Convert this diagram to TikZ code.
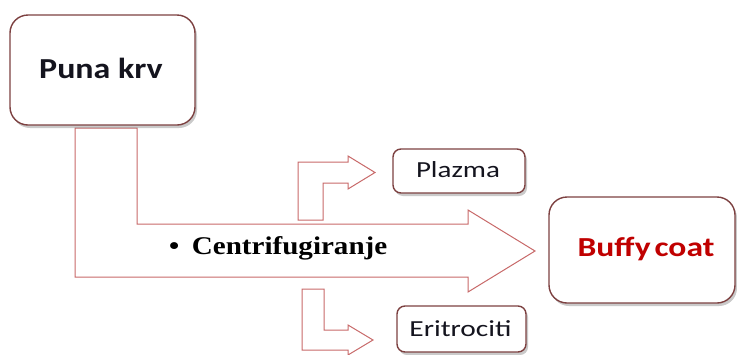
\documentclass[tikz,border=0pt]{standalone}
\usepackage{fontspec}
\setmainfont{Carlito}
\newfontfamily\tnr{Liberation Serif}
\usetikzlibrary{shadows}
\definecolor{boxline}{RGB}{125,65,65}
\definecolor{arrline}{RGB}{200,105,105}
\definecolor{buffyred}{RGB}{192,0,0}
\definecolor{txtdark}{RGB}{20,20,30}
\newcommand{\hsx}[2]{\scalebox{#1}[1]{#2}}
\tikzset{
  rbox/.style={draw=boxline, line width=1.4pt, fill=white, rounded corners=#1, inner sep=0pt,
    drop shadow={shadow xshift=2pt, shadow yshift=-3pt, opacity=0.35, fill=black!60}},
  barrow/.style={draw=arrline, line width=1pt, fill=white, line join=miter}
}
\begin{document}
\begin{tikzpicture}[x=1pt,y=-1pt]
\useasboundingbox (0,0) rectangle (737,354);
% big bent arrow
\draw[barrow] (75,128) -- (137,128) -- (137,224) -- (468,224) -- (468,210) -- (535,251)
  -- (468,292) -- (468,277) -- (75,277) -- cycle;
% plazma arrow
\draw[barrow] (298,220) -- (298,162) -- (348,162) -- (348,156) -- (375,172.5) -- (348,189)
  -- (348,183) -- (323,183) -- (323,220) -- cycle;
% eritrociti arrow
\draw[barrow] (302,289) -- (324,289) -- (324,330) -- (348,330) -- (348,325) -- (373,340)
  -- (348,355) -- (348,350) -- (302,350) -- cycle;
% boxes
\node[rbox=18pt, minimum width=185pt, minimum height=110pt] (puna) at (102.5,70) {};
\node[font=\fontsize{29}{34}\selectfont\bfseries, text=txtdark] (punat) at (101,68) {\hsx{1.17}{Puna krv}};
\node[rbox=8pt, minimum width=132pt, minimum height=44pt] (plazma) at (459,171) {};
\node[font=\fontsize{23}{27}\selectfont, text=txtdark] (plazmat) at (458,170) {\hsx{1.26}{Plazma}};
\node[rbox=18pt, minimum width=186pt, minimum height=106pt] (buffy) at (642,250) {};
\node[font=\fontsize{27.5}{32}\selectfont\bfseries, text=buffyred] (buffyt) at (646,249) {\hsx{1.22}{Buffy\hspace{-3pt} coat}};
\node[rbox=8pt, minimum width=129pt, minimum height=46pt] (eri) at (461.5,329) {};
\node[font=\fontsize{23}{28}\selectfont, text=txtdark] (erit) at (460.5,329) {\hsx{1.28}{Eritrociti}};
% label
\node[anchor=west, font=\tnr\fontsize{25.5}{30}\selectfont\bfseries, text=black, inner sep=0pt] (centri) at (169,248)
  {\hsx{1.14}{\textbullet\hspace{11pt}Centrifugiranje}};
\end{tikzpicture}
\end{document}
